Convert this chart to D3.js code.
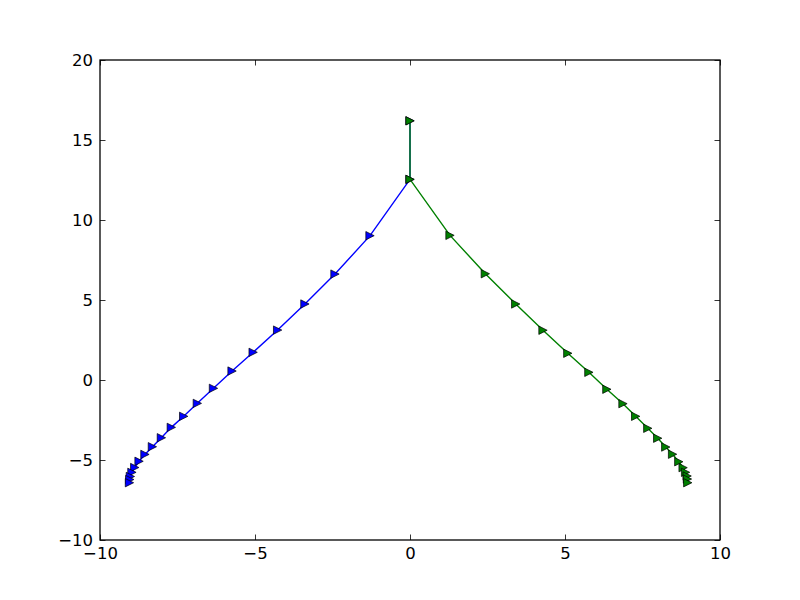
<!DOCTYPE html>
<html>
<head>
<meta charset="utf-8">
<script src="https://cdn.jsdelivr.net/npm/d3@7"></script>
<style>
  html, body { margin: 0; padding: 0; background: #fff; }
  svg { display: block; }
  .tick text { font-family: "DejaVu Sans", sans-serif; font-size: 16.5px; fill: #000; }
</style>
</head>
<body>
<div id="chart"></div>
<script>
// 两条轨迹（左侧蓝色、右侧绿色）
const blueX = [0, 0, -1.29, -2.42, -3.39, -4.27, -5.06, -5.74, -6.34, -6.86, -7.30, -7.70, -8.02, -8.31, -8.55, -8.74, -8.88, -8.97, -9.02, -9.04, -9.05];
const blueY = [16.2, 12.54, 9.02, 6.62, 4.75, 3.12, 1.73, 0.56, -0.52, -1.46, -2.27, -2.96, -3.61, -4.17, -4.65, -5.08, -5.47, -5.77, -6.03, -6.22, -6.42];
const greenX = [0, 0, 1.29, 2.43, 3.41, 4.29, 5.09, 5.77, 6.35, 6.87, 7.28, 7.67, 7.99, 8.25, 8.47, 8.67, 8.81, 8.89, 8.94, 8.95, 8.96];
const greenY = [16.2, 12.54, 9.04, 6.64, 4.75, 3.11, 1.67, 0.48, -0.58, -1.48, -2.27, -3.02, -3.64, -4.19, -4.64, -5.11, -5.48, -5.77, -6.0, -6.19, -6.42];

const xTicks = [-10, -5, 0, 5, 10];
const yTicks = [-10, -5, 0, 5, 10, 15, 20];

const width = 800, height = 600;
const margin = { top: 60, right: 80, bottom: 60, left: 100 };
const innerWidth = width - margin.left - margin.right;
const innerHeight = height - margin.top - margin.bottom;

const svg = d3.select('#chart').append('svg')
  .attr('width', width)
  .attr('height', height);

svg.append('rect').attr('width', width).attr('height', height).attr('fill', '#fff');

const g = svg.append('g').attr('transform', `translate(${margin.left},${margin.top})`);

const x = d3.scaleLinear().domain([-10, 10]).range([0, innerWidth]);
const y = d3.scaleLinear().domain([-10, 20]).range([innerHeight, 0]);

const fmt = d => (d < 0 ? '\u2212' + Math.abs(d) : String(d));

// 刻度朝内，四边都有
g.append('g').attr('transform', `translate(0,${innerHeight})`)
  .call(d3.axisBottom(x).tickValues(xTicks).tickFormat(fmt).tickSizeInner(-5.5).tickSizeOuter(0).tickPadding(7));
g.append('g')
  .call(d3.axisLeft(y).tickValues(yTicks).tickFormat(fmt).tickSizeInner(-5.5).tickSizeOuter(0).tickPadding(7));
g.append('g')
  .call(d3.axisTop(x).tickValues(xTicks).tickSizeInner(-5.5).tickSizeOuter(0))
  .selectAll('text').remove();
g.append('g').attr('transform', `translate(${innerWidth},0)`)
  .call(d3.axisRight(y).tickValues(yTicks).tickSizeInner(-5.5).tickSizeOuter(0))
  .selectAll('text').remove();

g.selectAll('.domain').remove();
g.selectAll('.tick line').attr('stroke', '#000').attr('stroke-width', 0.8);

// 轨迹
const series = [
  { xs: blueX, ys: blueY, color: '#0000ff' },
  { xs: greenX, ys: greenY, color: '#008000' }
];

const line = d3.line().x(d => x(d[0])).y(d => y(d[1]));
const s = 4.17; // 三角形半尺寸
const tri = `M${s},0L${-s},${s}L${-s},${-s}Z`;

series.forEach(sr => {
  const pts = sr.xs.map((v, i) => [v, sr.ys[i]]);
  g.append('path')
    .datum(pts)
    .attr('d', line)
    .attr('fill', 'none')
    .attr('stroke', sr.color)
    .attr('stroke-width', 1.4);
  g.append('g').selectAll('path')
    .data(pts)
    .join('path')
    .attr('d', tri)
    .attr('transform', d => `translate(${x(d[0])},${y(d[1])})`)
    .attr('fill', sr.color)
    .attr('stroke', '#000')
    .attr('stroke-width', 0.7);
});

// 边框
g.append('rect')
  .attr('width', innerWidth)
  .attr('height', innerHeight)
  .attr('fill', 'none')
  .attr('stroke', '#000')
  .attr('stroke-width', 1.3);
</script>
</body>
</html>
